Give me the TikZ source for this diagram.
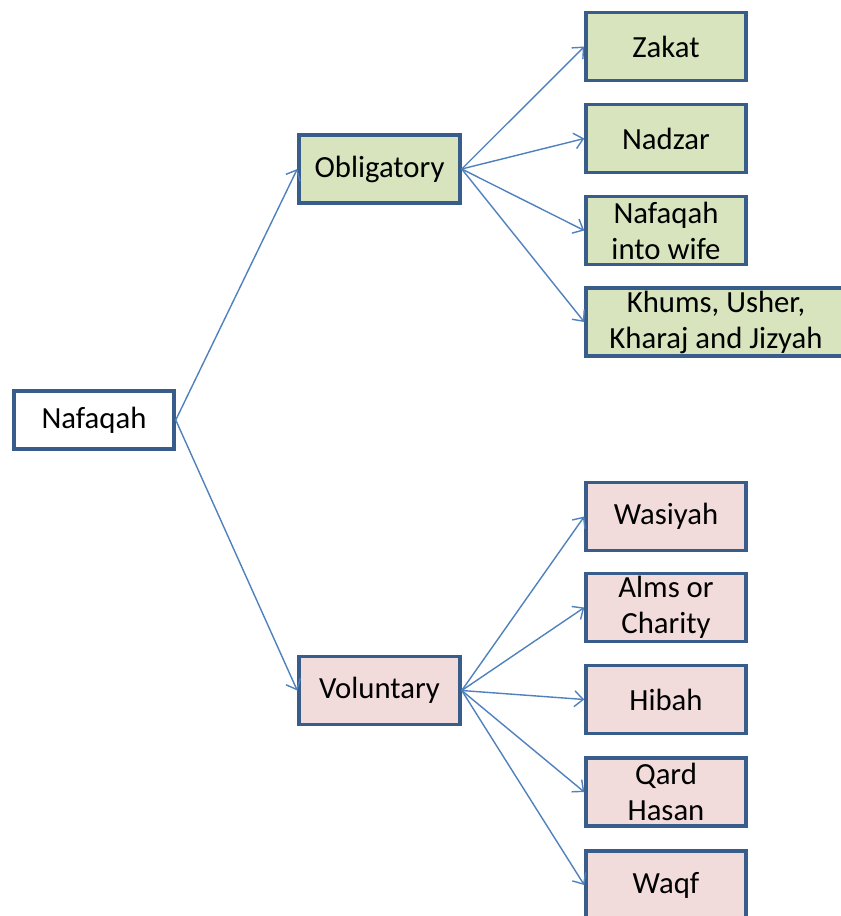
\documentclass[tikz,border=0pt]{standalone}
\usepackage{fontspec}
\setmainfont{Carlito}
\usetikzlibrary{arrows.meta}

\definecolor{linkblue}{HTML}{4F81BD}
\definecolor{boxblue}{HTML}{385D8A}
\definecolor{oblgreen}{HTML}{D7E4BD}
\definecolor{volpink}{HTML}{F2DCDB}

\begin{document}
\begin{tikzpicture}[x=0.02cm, y=-0.02cm,
        box/.style={draw=boxblue, line width=2pt, inner sep=0pt, align=center,
            font=\fontsize{17.5}{20.5}\selectfont, minimum width=3.2cm, minimum height=1.36cm},
        obl/.style={box, fill=oblgreen},
        vol/.style={box, fill=volpink},
        link/.style={draw=linkblue, line width=0.8pt, -{Straight Barb[length=5pt, width=9pt]}}]
        \useasboundingbox (0, 0) rectangle (840, 916);

        \node[box, fill=white, minimum height=1.16cm] (naf) at (94, 420) {Nafaqah};

        \node[obl, minimum width=3.22cm] (obl) at (379.5, 169) {Obligatory};
        \node[vol, minimum width=3.22cm] (vol) at (379.5, 690.5) {Voluntary};

        \node[obl] (zakat) at (666, 46.5) {Zakat};
        \node[obl] (nadzar) at (666, 138.5) {Nadzar};
        \node[obl] (wife) at (666, 230.5) {Nafaqah\\into wife};
        \node[obl, minimum width=5.2cm] (khums) at (716, 322) {Khums, Usher,\\Kharaj and Jizyah};

        \node[vol] (wasiyah) at (666, 516.5) {Wasiyah};
        \node[vol] (alms) at (666, 607.5) {Alms or\\Charity};
        \node[vol] (hibah) at (666, 699.5) {Hibah};
        \node[vol] (qard) at (666, 792) {Qard\\Hasan};
        \node[vol] (waqf) at (666, 885) {Waqf};

        \draw[link] (naf.east) -- (obl.west);
        \draw[link] (naf.east) -- (vol.west);

        \foreach \k in {zakat, nadzar, wife, khums}
            \draw[link] (obl.east) -- (\k.west);
        \foreach \k in {wasiyah, alms, hibah, qard, waqf}
            \draw[link] (vol.east) -- (\k.west);
\end{tikzpicture}
\end{document}
